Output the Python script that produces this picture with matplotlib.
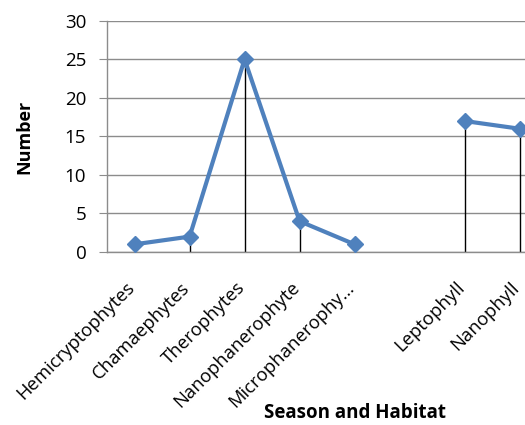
import matplotlib
matplotlib.use('Agg')
import matplotlib.pyplot as plt
import matplotlib.transforms as mtransforms
import numpy as np

plt.rcParams['font.family'] = ['Open Sans', 'DejaVu Sans']

# data
categories = ['Hemicryptophytes', 'Chamaephytes', 'Therophytes', 'Nanophanerophyte',
              'Microphanerophy…', '', 'Leptophyll', 'Nanophyll']
values = [1, 2, 25, 4, 1, np.nan, 17, 16]
y_ticks = [0, 5, 10, 15, 20, 25, 30]

LINE_BLUE = '#4F81BD'
GRID = '#8C8C8C'

fig = plt.figure(figsize=(5.25, 4.25), dpi=100)
fig.patch.set_facecolor('white')
# plot area runs past the right edge, as in the reference
ax = fig.add_axes([0.204, 0.407, 0.838, 0.544])

x = np.arange(len(categories))
vals = np.array(values, dtype=float)
ok = ~np.isnan(vals)

# drop lines
ax.vlines(x[ok], 0, vals[ok], color='black', linewidth=1, zorder=2)
ax.plot(x, vals, color=LINE_BLUE, linewidth=3, marker='D', markersize=8.5,
        markerfacecolor=LINE_BLUE, markeredgecolor=LINE_BLUE, zorder=3)

ax.set_xlim(-0.5, len(categories) - 0.5)
ax.set_ylim(0, 30)
ax.set_yticks(y_ticks)
ax.yaxis.grid(True, color=GRID, linewidth=1)
ax.set_axisbelow(True)

ax.set_xticks(x)
ax.set_xticklabels(categories, rotation=45, ha='right', rotation_mode='anchor',
                   fontsize=13.3)
ax.tick_params(axis='x', length=0, pad=19)
ax.tick_params(axis='y', length=6, color=GRID, labelsize=13.5, pad=9)
# nudge the slanted labels a little to the left
shift = mtransforms.ScaledTranslation(-9 / 100, 0, fig.dpi_scale_trans)
for lbl in ax.get_xticklabels():
    lbl.set_transform(lbl.get_transform() + shift)

for s in ['top', 'right']:
    ax.spines[s].set_visible(False)
for s in ['left', 'bottom']:
    ax.spines[s].set_color(GRID)
    ax.spines[s].set_linewidth(1)

ax.set_ylabel('Number', fontsize=13, fontweight='bold')
ax.yaxis.set_label_coords(-0.168, 0.5)
fig.text(0.676, 0.028, 'Season and Habitat', ha='center', va='center',
         fontsize=13.5, fontweight='bold')

plt.savefig('out.png', dpi=100, facecolor='white')
plt.close()
